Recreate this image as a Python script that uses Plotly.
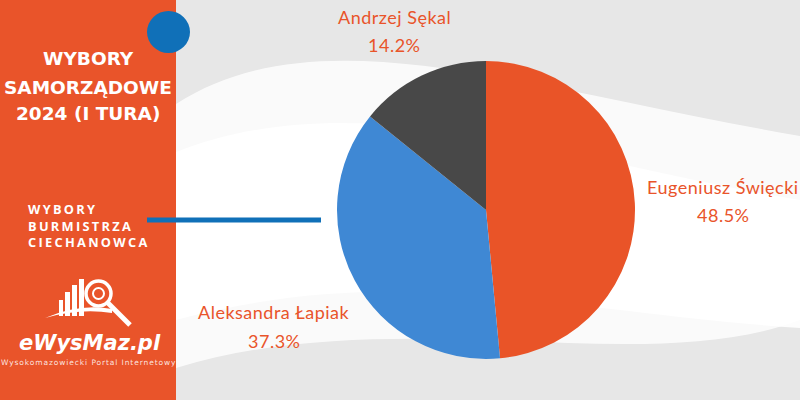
import plotly.graph_objects as go

candidates = ["Eugeniusz Święcki", "Aleksandra Łapiak", "Andrzej Sękal"]
shares = [48.5, 37.3, 14.2]
slice_colors = ["#E95428", "#3F88D4", "#484848"]

title_lines = ["WYBORY", "SAMORZĄDOWE", "2024 (I TURA)"]
subtitle_lines = ["WYBORY", "BURMISTRZA", "CIECHANOWCA"]
brand = "eWysMaz.pl"
brand_sub = "Wysokomazowiecki Portal Internetowy"

ORANGE = "#E9542A"
W, H = 800, 400

# label placement (pixel centres of name line / value line), layout only
label_pos = {
    "Eugeniusz Święcki": (723, 187, 215),
    "Aleksandra Łapiak": (274, 312, 341),
    "Andrzej Sękal": (394, 17, 45),
}

fig = go.Figure()
fig.add_trace(go.Pie(
    labels=candidates,
    values=shares,
    sort=False,
    direction="clockwise",
    rotation=0,
    marker=dict(colors=slice_colors, line=dict(width=0)),
    textinfo="none",
    hoverinfo="skip",
    showlegend=False,
    domain=dict(x=[337 / W, 635 / W], y=[1 - 359 / H, 1 - 61 / H]),
))

shapes = []
# background swooshes
shapes.append(dict(type="path", xref="paper", yref="paper", layer="below",
                   path="M 0.22,0.74 C 0.4,0.97 0.65,0.78 1.0,0.66 L 1.0,0.2 C 0.8,0.05 0.5,0.25 0.22,0.08 Z",
                   fillcolor="rgba(255,255,255,0.8)", line=dict(width=0)))
shapes.append(dict(type="path", xref="paper", yref="paper", layer="below",
                   path="M 0.22,0.62 C 0.45,0.8 0.7,0.6 1.0,0.5 L 1.0,0.18 C 0.7,0.22 0.5,0.35 0.22,0.2 Z",
                   fillcolor="rgba(255,255,255,0.9)", line=dict(width=0)))
# left orange panel
shapes.append(dict(type="rect", xref="paper", yref="paper", x0=0, x1=176 / W, y0=0, y1=1,
                   fillcolor=ORANGE, line=dict(width=0), layer="below"))
# blue circle
shapes.append(dict(type="circle", xref="paper", yref="paper",
                   x0=147 / W, x1=190 / W, y0=1 - 53 / H, y1=1 - 11 / H,
                   fillcolor="#1070B8", line=dict(width=0)))
# blue line
shapes.append(dict(type="line", xref="paper", yref="paper",
                   x0=147 / W, x1=321 / W, y0=1 - 220 / H, y1=1 - 220 / H,
                   line=dict(color="#1070B8", width=5)))
# logo icon: bars
for (bx0, bx1, by0) in [(59, 63, 300), (65, 70, 292), (72, 77, 285), (79, 84, 279)]:
    shapes.append(dict(type="rect", xref="paper", yref="paper",
                       x0=bx0 / W, x1=bx1 / W, y0=1 - 316 / H, y1=1 - by0 / H,
                       fillcolor="white", line=dict(width=0)))
# logo base arc
shapes.append(dict(type="path", xref="paper", yref="paper",
                   path=f"M {45/W},{1-318/H} Q {80/W},{1-303/H} {112/W},{1-309/H} L {112/W},{1-313/H} Q {80/W},{1-308/H} {45/W},{1-318/H} Z",
                   fillcolor="white", line=dict(width=0)))
# magnifier
shapes.append(dict(type="circle", xref="paper", yref="paper",
                   x0=86 / W, x1=111 / W, y0=1 - 306 / H, y1=1 - 281 / H,
                   fillcolor="rgba(0,0,0,0)", line=dict(color="white", width=3.5)))
shapes.append(dict(type="circle", xref="paper", yref="paper",
                   x0=93 / W, x1=104 / W, y0=1 - 299 / H, y1=1 - 288 / H,
                   fillcolor="rgba(0,0,0,0)", line=dict(color="white", width=2)))
shapes.append(dict(type="line", xref="paper", yref="paper",
                   x0=108 / W, x1=130 / W, y0=1 - 303 / H, y1=1 - 325 / H,
                   line=dict(color="white", width=5)))

annotations = []
title_y = [58, 87, 114]
for txt, yy in zip(title_lines, title_y):
    annotations.append(dict(text=f"<b>{txt}</b>", x=88 / W, y=1 - yy / H, xref="paper", yref="paper",
                            xanchor="center", yanchor="middle", showarrow=False,
                            font=dict(family="DejaVu Sans", size=18.5, color="white")))
sub_text = "<br>".join(f"<b><span style='letter-spacing:2.3px'>{t}</span></b>" for t in subtitle_lines)
annotations.append(dict(text=sub_text, x=26 / W, y=1 - 225 / H, xref="paper", yref="paper",
                        xanchor="left", yanchor="middle", align="left", showarrow=False,
                        font=dict(family="Open Sans", size=12.8, color="white")))
annotations.append(dict(text=f"<b><i>{brand}</i></b>", x=90 / W, y=1 - 343 / H, xref="paper", yref="paper",
                        xanchor="center", yanchor="middle", showarrow=False,
                        font=dict(family="DejaVu Sans", size=21, color="white")))
annotations.append(dict(text=f"<span style='letter-spacing:0.9px'>{brand_sub}</span>",
                        x=88 / W, y=1 - 362 / H, xref="paper", yref="paper",
                        xanchor="center", yanchor="middle", showarrow=False,
                        font=dict(family="DejaVu Sans", size=7.5, color="rgba(255,255,255,0.85)")))

# slice labels
for name, val in zip(candidates, shares):
    cx, y1, y2 = label_pos[name]
    for txt, yy in ((name, y1), (f"{val:.1f}%", y2)):
        annotations.append(dict(text=f"<span style='letter-spacing:0.5px'>{txt}</span>",
                                x=cx / W, y=1 - yy / H, xref="paper", yref="paper",
                                xanchor="center", yanchor="middle", showarrow=False,
                                font=dict(family="Lato", size=18, color=ORANGE)))

fig.update_layout(
    width=W, height=H,
    margin=dict(l=0, r=0, t=0, b=0),
    paper_bgcolor="#E7E7E7",
    plot_bgcolor="#E7E7E7",
    shapes=shapes,
    annotations=annotations,
)

fig.write_html("out.html", config={"displayModeBar": False},
               post_script="document.body.style.margin='0';document.body.style.overflow='hidden';")
